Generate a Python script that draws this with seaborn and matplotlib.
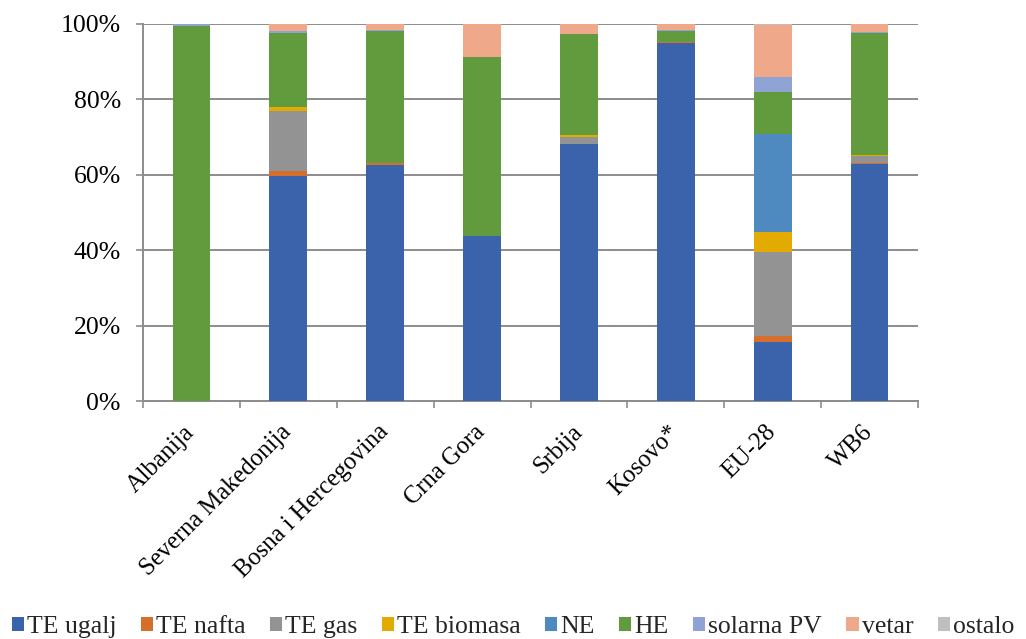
import numpy as np
import pandas as pd
import matplotlib
matplotlib.use("Agg")
import matplotlib.pyplot as plt
from matplotlib.patches import Patch
from matplotlib.ticker import FixedLocator
import seaborn as sns

# Electricity generation mix by source, share of total (%)
categories = ["Albanija", "Severna Makedonija", "Bosna i Hercegovina", "Crna Gora",
              "Srbija", "Kosovo*", "EU-28", "WB6"]
te_ugalj   = [0.0, 59.7, 62.6, 43.8, 68.2, 94.9, 15.6, 62.8]
te_nafta   = [0.0, 1.3, 0.4, 0.0, 0.0, 0.2, 1.7, 0.2]
te_gas     = [0.0, 16.0, 0.0, 0.0, 1.9, 0.0, 22.1, 2.1]
te_biomasa = [0.0, 1.0, 0.0, 0.0, 0.4, 0.0, 5.4, 0.2]
ne         = [0.0, 0.0, 0.0, 0.0, 0.0, 0.0, 26.0, 0.0]
he         = [99.6, 19.7, 35.2, 47.5, 26.8, 3.1, 11.2, 32.4]
solarna_pv = [0.4, 0.5, 0.3, 0.0, 0.0, 0.3, 4.0, 0.2]
vetar      = [0.0, 1.8, 1.5, 8.7, 2.7, 1.5, 13.8, 2.1]
ostalo     = [0.0, 0.0, 0.0, 0.0, 0.0, 0.0, 0.2, 0.0]

series_names = ["TE ugalj", "TE nafta", "TE gas", "TE biomasa", "NE", "HE",
                "solarna PV", "vetar", "ostalo"]
series_vals = [te_ugalj, te_nafta, te_gas, te_biomasa, ne, he, solarna_pv, vetar, ostalo]
colors = ["#3B63AB", "#D76F2C", "#939393", "#E3AA00", "#4E8ABF", "#629A3E",
          "#8FA3D5", "#F0A88A", "#BFBFBF"]

sns.set_theme(style="white")
plt.rcParams["font.family"] = ["Liberation Serif", "DejaVu Serif"]
FS = 18.5

fig = plt.figure(figsize=(10.26, 6.39), dpi=100)
ax = fig.add_axes([143 / 1026, 1 - 401 / 639, (918 - 143) / 1026, (401 - 24) / 639])

# Stacked bars: draw cumulative totals from the top layer down
cum = np.cumsum(np.array(series_vals), axis=0)
for i in range(len(series_names) - 1, -1, -1):
    df = pd.DataFrame({"kategorija": categories, "udeo": cum[i]})
    sns.barplot(data=df, x="kategorija", y="udeo", color=colors[i], ax=ax,
                width=0.39, saturation=1, edgecolor="none", linewidth=0, zorder=3)

ax.set_ylim(0, 100)
ax.set_xlim(-0.5, len(categories) - 0.5)
ax.set_yticks([0, 20, 40, 60, 80, 100])
ax.set_yticklabels([f"{v}%" for v in [0, 20, 40, 60, 80, 100]])
ax.set_xlabel("")
ax.set_ylabel("")

grid_c = "#8C8C8C"
ax.yaxis.grid(True, color=grid_c, linewidth=1.4, zorder=0)
ax.xaxis.grid(False)
ax.set_axisbelow(True)
for s in ["top", "right"]:
    ax.spines[s].set_visible(False)
for s in ["left", "bottom"]:
    ax.spines[s].set_color(grid_c)
    ax.spines[s].set_linewidth(1.4)

ax.tick_params(axis="y", which="major", left=True, length=5, width=1.2, color=grid_c,
               pad=11, labelsize=FS, labelcolor="black")
ax.tick_params(axis="x", which="major", bottom=False, length=0, pad=20, labelsize=17.7,
               labelcolor="black")
ax.xaxis.set_minor_locator(FixedLocator(np.arange(-0.5, len(categories), 1.0)))
ax.tick_params(axis="x", which="minor", bottom=True, length=5, width=1.2, color=grid_c)
for lab in ax.get_xticklabels():
    lab.set_rotation(45)
    lab.set_ha("right")
    lab.set_va("center")
    lab.set_rotation_mode("anchor")

handles = [Patch(facecolor=c, edgecolor="none") for c in colors]
fig.legend(handles, series_names, loc="center", bbox_to_anchor=(0.5, 12 / 639),
           ncol=9, frameon=False, fontsize=FS, handlelength=0.47, handleheight=0.47,
           handletextpad=0.12, columnspacing=0.95, borderaxespad=0, borderpad=0)

fig.savefig("out.png", dpi=100)
